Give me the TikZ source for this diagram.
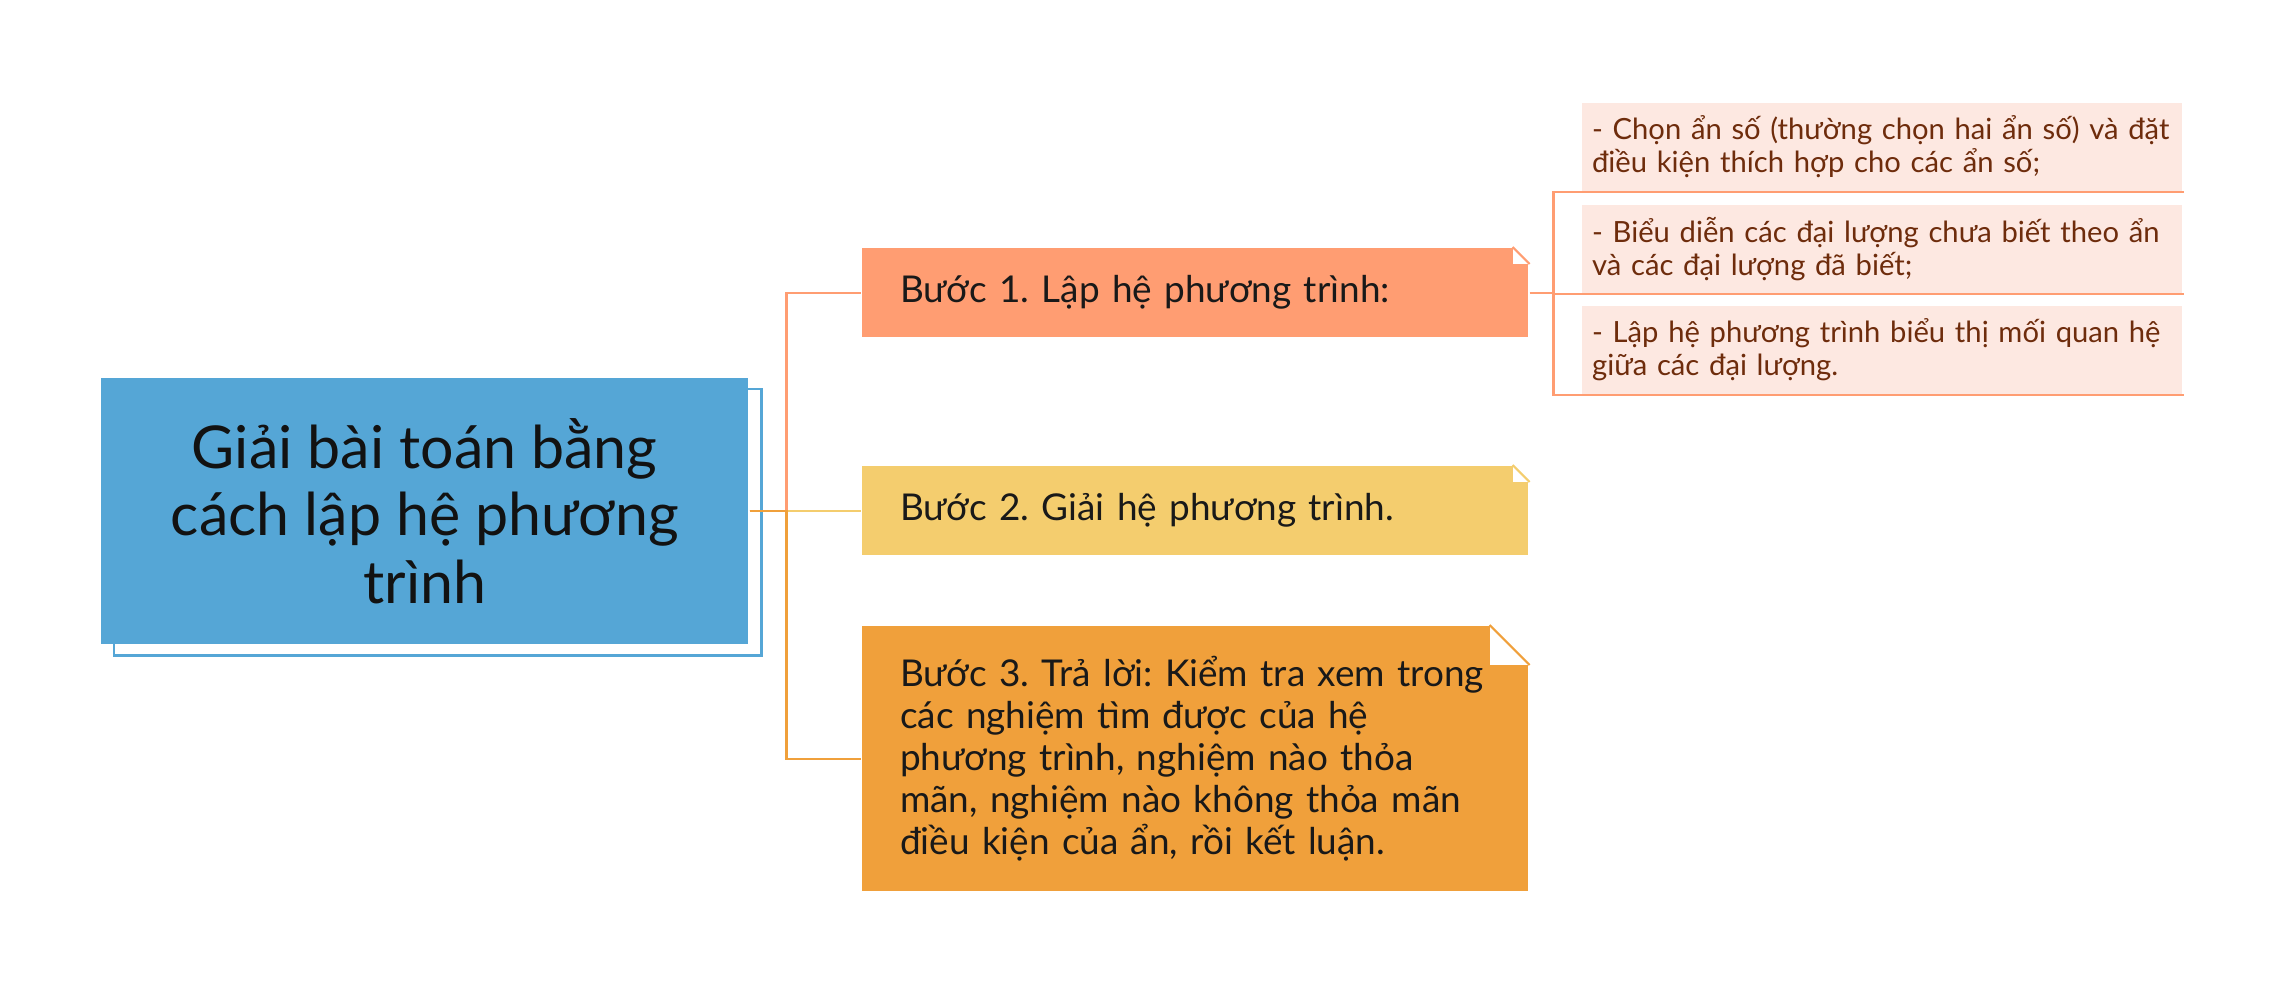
\documentclass[tikz,border=0pt]{standalone}
\usepackage{fontspec}
\setmainfont{Lato}
\frenchspacing
\usetikzlibrary{calc,shadows}
\definecolor{mainblue}{HTML}{55A6D6}
\definecolor{stepone}{HTML}{FF9D72}
\definecolor{steptwo}{HTML}{F4CD6E}
\definecolor{stepthree}{HTML}{F0A03B}
\definecolor{subpink}{HTML}{FDE8E1}
\definecolor{subtext}{HTML}{6E2C0C}
\tikzset{
  mainbox/.style={anchor=north west, fill=mainblue, minimum width=6.47cm, minimum height=2.66cm, align=center, text=black!93, font=\fontsize{16.8}{19.3}\selectfont, copy shadow={shadow xshift=0.13cm, shadow yshift=-0.11cm, fill=white, draw=mainblue, line width=0.8pt}},
  stepbox/.style={anchor=north west, text width=5.9cm, inner xsep=0.38cm, align=left, text=black!90, font=\fontsize{10.5}{12}\selectfont},
  subbox/.style={anchor=north west, fill=subpink, text width=5.8cm, minimum height=0.88cm, inner xsep=0.1cm, align=left, text=subtext, font=\fontsize{8.3}{9.4}\selectfont},
}
\begin{document}
\begin{tikzpicture}[x=0.01cm, y=-0.01cm, line width=0.6pt]
\useasboundingbox (0,0) rectangle (2280,994);

\node[mainbox] (main) at (100,377) {Giải bài toán bằng\\cách lập hệ phương\\trình};

\node[stepbox, fill=stepone, minimum height=0.89cm] (b1) at (861,247) {Bước 1. Lập hệ phương trình:};
\node[stepbox, fill=steptwo, minimum height=0.89cm] (b2) at (861,465) {Bước 2. Giải hệ phương trình.};
\node[stepbox, fill=stepthree, minimum height=2.65cm] (b3) at (861,625) {Bước 3. Trả lời: Kiểm tra xem trong\\các nghiệm tìm được của hệ\\phương trình, nghiệm nào thỏa\\mãn, nghiệm nào không thỏa mãn\\điều kiện của ẩn, rồi kết luận.};

\node[subbox] (s1) at (1581,102) {- Chọn ẩn số (thường chọn hai ẩn số) và đặt\\điều kiện thích hợp cho các ẩn số;};
\node[subbox] (s2) at (1581,204) {- Biểu diễn các đại lượng chưa biết theo ẩn\\và các đại lượng đã biết;};
\node[subbox] (s3) at (1581,305) {- Lập hệ phương trình biểu thị mối quan hệ\\giữa các đại lượng.};

% folded corners
\foreach \n/\f/\c in {b1/17/stepone, b2/17/steptwo, b3/40/stepthree} {
  \fill[white] ($(\n.north east)+(-\f,0)$) rectangle ($(\n.north east)+(0,\f)$);
  \draw[\c] ($(\n.north east)+(-\f,0)$) -- ($(\n.north east)+(0,\f)$);
}

\foreach \b/\c in {b2/steptwo, b1/stepone, b3/stepthree}
  \draw[\c] (main.east) -- ++(37,0) |- (\b.west);

\draw[stepone] (b1.east) -- ++(24,0) coordinate (fork);
\foreach \s in {s1,s2,s3}
  \draw[stepone] (fork) |- (\s.south east);

\end{tikzpicture}
\end{document}
